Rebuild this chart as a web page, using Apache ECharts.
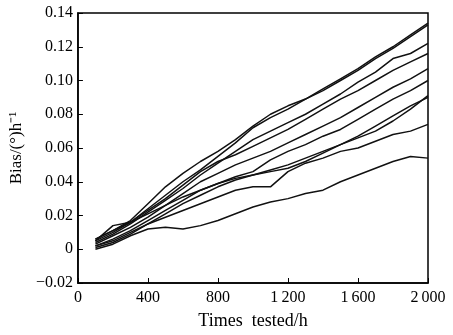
<!DOCTYPE html>
<html>
<head>
<meta charset="utf-8">
<script src="https://cdn.jsdelivr.net/npm/echarts@6/dist/echarts.min.js"></script>
<style>
  html, body { margin: 0; padding: 0; background: #fff; }
  #chart { width: 453px; height: 335px; }
</style>
</head>
<body>
<div id="chart"></div>
<script>
// test time, h
const hours = [100, 200, 300, 400, 500, 600, 700, 800, 900, 1000,
  1100, 1200, 1300, 1400, 1500, 1600, 1700, 1800, 1900, 2000];

// bias curves of each gyro, (°)/h
const gyro1 = [0.006, 0.011, 0.017, 0.027, 0.037, 0.045, 0.052, 0.058, 0.065, 0.073,
  0.080, 0.085, 0.089, 0.095, 0.101, 0.107, 0.114, 0.120, 0.127, 0.134];
const gyro2 = [0.005, 0.014, 0.016, 0.024, 0.032, 0.040, 0.047, 0.055, 0.063, 0.072,
  0.078, 0.083, 0.089, 0.094, 0.100, 0.106, 0.113, 0.119, 0.126, 0.133];
const gyro3 = [0.004, 0.009, 0.015, 0.022, 0.029, 0.036, 0.044, 0.051, 0.058, 0.065,
  0.070, 0.075, 0.080, 0.086, 0.092, 0.099, 0.105, 0.113, 0.116, 0.122];
const gyro4 = [0.005, 0.010, 0.016, 0.023, 0.030, 0.038, 0.046, 0.052, 0.056, 0.061,
  0.066, 0.071, 0.077, 0.083, 0.089, 0.094, 0.100, 0.106, 0.111, 0.116];
const gyro5 = [0.003, 0.008, 0.013, 0.019, 0.026, 0.033, 0.040, 0.045, 0.050, 0.054,
  0.058, 0.063, 0.068, 0.073, 0.078, 0.084, 0.090, 0.096, 0.101, 0.107];
const gyro6 = [0.002, 0.006, 0.011, 0.017, 0.023, 0.029, 0.035, 0.039, 0.043, 0.046,
  0.053, 0.058, 0.062, 0.067, 0.071, 0.077, 0.083, 0.089, 0.094, 0.100];
const gyro7 = [0.006, 0.011, 0.016, 0.021, 0.026, 0.031, 0.035, 0.039, 0.042, 0.044,
  0.046, 0.048, 0.052, 0.057, 0.062, 0.066, 0.070, 0.076, 0.083, 0.091];
const gyro8 = [0.001, 0.004, 0.009, 0.015, 0.021, 0.027, 0.032, 0.037, 0.041, 0.044,
  0.047, 0.050, 0.054, 0.058, 0.062, 0.067, 0.073, 0.079, 0.085, 0.090];
const gyro9 = [0.002, 0.005, 0.010, 0.015, 0.019, 0.023, 0.027, 0.031, 0.035, 0.037,
  0.037, 0.046, 0.051, 0.054, 0.058, 0.060, 0.064, 0.068, 0.070, 0.074];
const gyro10 = [0.000, 0.003, 0.008, 0.012, 0.013, 0.012, 0.014, 0.017, 0.021, 0.025,
  0.028, 0.030, 0.033, 0.035, 0.040, 0.044, 0.048, 0.052, 0.055, 0.054];

const gyros = [gyro1, gyro2, gyro3, gyro4, gyro5, gyro6, gyro7, gyro8, gyro9, gyro10];

const chart = echarts.init(document.getElementById("chart"));
const font = "'Liberation Serif', 'Times New Roman', serif";

let option = {
  animation: false,
  grid: {
    left: 77,
    right: 25,
    top: 13,
    bottom: 51,
    show: true,
    borderColor: "#000",
    borderWidth: 1.5,
  },
  xAxis: {
    type: "value",
    min: 0,
    max: 2000,
    interval: 400,
    name: "Times  tested/h",
    nameLocation: "middle",
    nameGap: 29,
    nameTextStyle: { color: "#000", fontFamily: font, fontSize: 18 },
    axisLine: { onZero: false, lineStyle: { color: "#000", width: 1.5 } },
    axisTick: { inside: true, length: 5, lineStyle: { color: "#000" } },
    splitLine: { show: false },
    axisLabel: {
      color: "#000",
      fontFamily: font,
      fontSize: 16,
      margin: 7,
      formatter: (v) => (v >= 1000 ? String(v).replace(/^(\d)/, "$1\u2009") : String(v)),
    },
  },
  yAxis: {
    type: "value",
    min: -0.02,
    max: 0.14,
    interval: 0.02,
    name: "Bias/(°)h⁻¹",
    nameLocation: "middle",
    nameGap: 45,
    nameTextStyle: { color: "#000", fontFamily: font, fontSize: 17 },
    axisLine: { onZero: false, lineStyle: { color: "#000", width: 1.5 } },
    axisTick: { inside: true, length: 5, lineStyle: { color: "#000" } },
    splitLine: { show: false },
    axisLabel: {
      color: "#000",
      fontFamily: font,
      fontSize: 16,
      margin: 5,
      formatter: (v) => {
        if (Math.abs(v) < 1e-9) return "0";
        const s = Math.abs(v).toFixed(2);
        return v < 0 ? "\u2212" + s : s;
      },
    },
  },
  series: gyros.map((g, i) => ({
    name: "gyro" + (i + 1),
    type: "line",
    showSymbol: false,
    data: hours.map((h, j) => [h, g[j]]),
    lineStyle: { color: "#111", width: 1.5 },
  })),
};
chart.setOption(option);
</script>
</body>
</html>
